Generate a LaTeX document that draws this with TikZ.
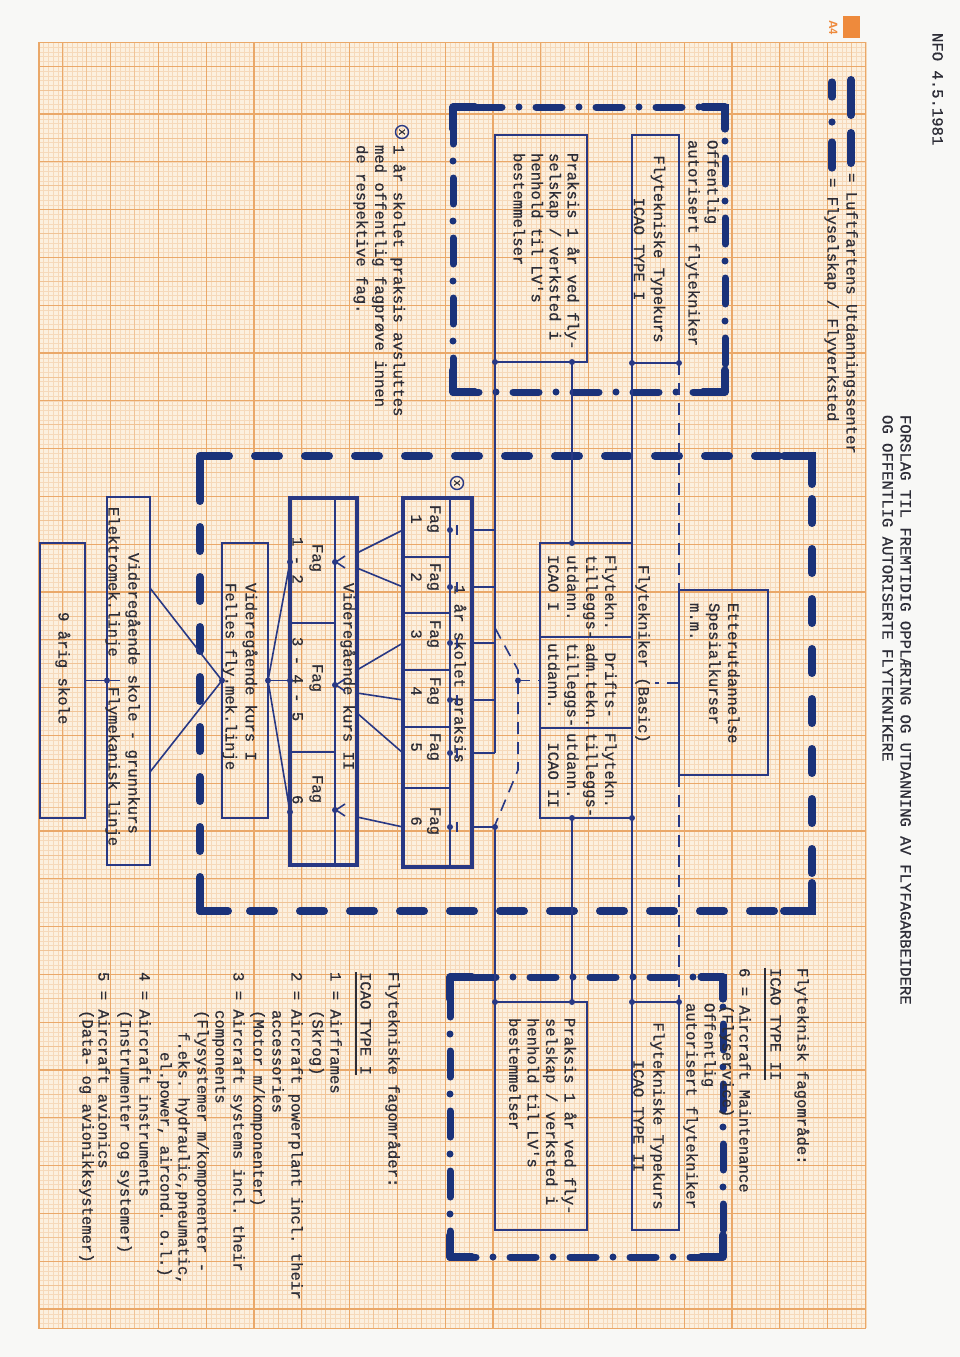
\documentclass[tikz,border=0pt]{standalone}
\usepackage{fontspec}
\setmonofont{Liberation Mono}[FakeBold=0.7]
\usetikzlibrary{calc}
\definecolor{ink}{RGB}{40,56,132}
\definecolor{heavy}{RGB}{26,50,122}
\definecolor{typec}{RGB}{45,45,55}
\definecolor{paper}{RGB}{252,240,223}
\definecolor{gminc}{RGB}{246,217,186}
\definecolor{gmidc}{RGB}{240,195,150}
\definecolor{gmajc}{RGB}{234,168,105}
\definecolor{tagc}{RGB}{238,138,60}
\definecolor{margin}{RGB}{248,248,246}
\newcommand\twf{\ttfamily\fontsize{7.8pt}{8.75pt}\selectfont}
\newcommand\twfs[1]{\ttfamily\fontsize{7.8pt}{#1}\selectfont}
\newcommand\drawcorners[3]{%
  \draw[#3] ([yshift=-#2]#1.north west) -- (#1.north west) -- ([xshift=#2]#1.north west);
  \draw[#3] ([xshift=-#2]#1.north east) -- (#1.north east) -- ([yshift=-#2]#1.north east);
  \draw[#3] ([yshift=#2]#1.south west) -- (#1.south west) -- ([xshift=#2]#1.south west);
  \draw[#3] ([xshift=-#2]#1.south east) -- (#1.south east) -- ([yshift=#2]#1.south east);}
\tikzset{
 tx/.style={rotate=-90, inner sep=0pt, outer sep=0pt, font=\twf, text=typec},
 ln/.style={draw=ink, line width=0.8pt},
 bx/.style={rectangle, draw=ink, line width=1.1pt, inner sep=0pt, outer sep=0pt},
 bxk/.style={bx, line width=1.6pt},
 dd/.style={rectangle, draw=heavy, line width=3.5pt, line cap=round, dash pattern=on 13pt off 8.5pt on 0pt off 8.5pt, inner sep=0pt, outer sep=0pt},
 ld/.style={rectangle, draw=heavy, line width=4pt, line cap=round, dash pattern=on 12pt off 13pt, inner sep=0pt, outer sep=0pt},
 crn/.style={draw=heavy, line width=3.6pt, line cap=round, line join=round},
 crnb/.style={draw=heavy, line width=4pt, line cap=round, line join=round},
 td/.style={draw=ink, line width=0.8pt, dash pattern=on 6pt off 4pt},
 jdot/.style={circle, fill=ink, inner sep=0pt, minimum size=3pt},
 gmin/.style={draw=gminc, line width=0.25pt},
 gmid/.style={draw=gmidc, line width=0.4pt},
 gmaj/.style={draw=gmajc, line width=0.6pt},
 cx/.style={circle, draw=ink, line width=0.7pt, inner sep=0pt, minimum size=6.5pt, rotate=-90, font=\ttfamily\fontsize{5.5pt}{6pt}\selectfont, text=typec},
}
\begin{document}
\begin{tikzpicture}[x=0.5pt,y=-0.5pt]
\useasboundingbox (0,0) rectangle (960,1357);
% ---------- paper ----------
\fill[margin] (0,0) rectangle (960,1357);
\fill[paper] (38.9,42.3) rectangle (865.8,1328.1);
\foreach \i in {-5,...,168} \draw[gmin] ({62.8+4.78*\i},42.3) -- ({62.8+4.78*\i},1328.1);
\foreach \j in {-5,...,264} \draw[gmin] (38.9,{66.2+4.78*\j}) -- (865.8,{66.2+4.78*\j});
\foreach \i in {-1,...,33} \draw[gmid] ({62.8+23.9*\i},42.3) -- ({62.8+23.9*\i},1328.1);
\foreach \j in {-1,...,52} \draw[gmid] (38.9,{66.2+23.9*\j}) -- (865.8,{66.2+23.9*\j});
\foreach \i in {0,...,16} \draw[gmaj] ({62.8+47.8*\i},42.3) -- ({62.8+47.8*\i},1328.1);
\foreach \j in {0,...,26} \draw[gmaj] (38.9,{66.2+47.8*\j}) -- (865.8,{66.2+47.8*\j});
\draw[gmaj] (38.9,42.3) rectangle (865.8,1328.1);
% A4 tag
\fill[tagc] (843,16) rectangle (860,38);
\node[tx, text=tagc, font=\sffamily\bfseries\fontsize{6pt}{6pt}\selectfont, anchor=base west] (tag) at (829,20) {A4};
% ---------- header ----------
\node[tx, anchor=base west] (date) at (932.5,33) {NFO 4.5.1981};
\node[tx, anchor=base west] (title1) at (900.5,415) {FORSLAG TIL FREMTIDIG OPPLÆRING OG UTDANNING AV FLYFAGARBEIDERE};
\node[tx, anchor=base west] (title2) at (882.5,415) {OG OFFENTLIG AUTORISERTE FLYTEKNIKERE};
% ---------- legend ----------
\draw[crnb] (851,80) -- (851,115);
\draw[crnb] (851,133) -- (851,163);
\node[tx, anchor=base west] (leg1) at (846.5,173) {= Luftfartens Utdanningssenter};
\draw[crn] (832,82) -- (832,97);
\fill[heavy] (832,122) circle (3.6);
\draw[crn] (832,142) -- (832,168);
\node[tx, anchor=base west] (leg2) at (827.5,178) {= Flyselskap / Flyverksted};
% ---------- left (type I) ----------
\node[dd, minimum width=136pt, minimum height=142.5pt] (LI) at (589,249.5) {};
\drawcorners{LI}{11pt}{crn}
\node[tx, anchor=base west] (LIt1) at (707.5,140) {Offentlig};
\node[tx, anchor=base west] (LIt2) at (688.5,140) {autorisert flytekniker};
\node[bx, minimum width=23.5pt, minimum height=114pt] (tkI) at (655.5,249) {};
\node[tx, align=center, font=\twfs{10pt}] (tkIt) at (649.5,249) {Flytekniske Typekurs\\ICAO TYPE I};
\node[bx, minimum width=46pt, minimum height=113.5pt] (prI) at (541,248.5) {};
\node[tx, align=left, anchor=north west, font=\twfs{9pt}] (prIt) at (579.5,153) {Praksis 1 år ved fly-\\selskap / verksted i\\henhold til LV's\\bestemmelser};
% note
\node[cx] (x1) at (402,132) {x};
\node[tx, align=left, anchor=north west, font=\twfs{9.25pt}] (note) at (405.5,145) {1 år skolet praksis avsluttes\\med offentlig fagprøve innen\\de respektive fag.};
% ---------- big centre frame ----------
\node[ld, minimum width=306pt, minimum height=227.5pt] (LUS) at (506,683.5) {};
\drawcorners{LUS}{14pt}{crnb}
% Etterutdannelse
\node[bx, minimum width=44.5pt, minimum height=92.5pt] (etter) at (723.5,682.5) {};
\node[tx, align=left, anchor=north west, font=\twfs{9.5pt}] (ettert) at (739.5,603) {Etterutdannelse\\Spesialkurser\\m.m.};
% Basic
\node[bx, minimum width=46pt, minimum height=137.5pt] (basic) at (586,680.5) {};
\draw[ln] (540,637) -- (632,637);
\draw[ln] (540,728) -- (632,728);
\node[tx, anchor=base west] (basicl) at (638.5,565) {Flytekniker (Basic)};
\node[tx, align=left, anchor=north west, font=\twfs{9.5pt}] (bc1) at (616.5,555) {Flytekn.\\tilleggs-\\utdann.\\ICAO I};
\node[tx, align=left, anchor=north west, font=\twfs{9.5pt}] (bc2) at (616.5,643) {~Drifts-\\adm.tekn.\\tilleggs-\\utdann.};
\node[tx, align=left, anchor=north west, font=\twfs{9.5pt}] (bc3) at (616.5,733) {Flytekn.\\tilleggs-\\utdann.\\~ICAO II};
% Fag box
\node[bxk, minimum width=34.5pt, minimum height=184.5pt] (fag) at (437.5,682.5) {};
\draw[ln] (450,498) -- (450,867);
\foreach \yy in {557,613,670,727,788} \draw[ln] (405,\yy) -- (450,\yy);
\foreach \s/\n in {505/1,563/2,620/3,677/4,733/5,807/6}
  \node[tx, align=left, anchor=north west, font=\twfs{9.5pt}] at (440.5,\s) {Fag\\~\n};
\node[tx, anchor=base west] (skp) at (454.5,585) {1 år skolet praksis};
\node[cx] (x2) at (457,483) {x};
\foreach \yy in {530,587,643,700,753,827} {
  \node[jdot] at (450,\yy) {};
  \draw[ln] (457,\yy-5) -- (457,\yy+5);
}
% VK II
\node[bxk, minimum width=33.5pt, minimum height=183.5pt] (vk2) at (323.5,681.5) {};
\draw[ln] (335,498) -- (335,865);
\draw[ln] (290,623) -- (335,623);
\draw[ln] (290,752) -- (335,752);
\node[tx, anchor=base west] (vk2t) at (343.5,583) {Videregående kurs II};
\node[tx, anchor=base west] at (312.5,544) {Fag};
\node[tx, anchor=base west] at (292.5,537) {1 - 2};
\node[tx, anchor=base west] at (312.5,664) {Fag};
\node[tx, anchor=base west] at (292.5,637) {3 - 4 - 5};
\node[tx, anchor=base west] at (312.5,775) {Fag};
\node[tx, anchor=base west] at (292.5,795) {6};
\foreach \yy in {562,685,810} {
  \node[jdot] at (335,\yy) {};
  \draw[ln] (345,\yy-6) -- (336,\yy) -- (345,\yy+6);
}
% VK I
\node[bx, minimum width=23pt, minimum height=137.5pt] (vk1) at (245,680.5) {};
\node[tx, align=left, anchor=north west, font=\twfs{10pt}] (vk1t) at (257.5,583) {Videregående kurs I\\Felles fly.mek.linje};
% grunnkurs
\node[bx, minimum width=21.5pt, minimum height=184pt] (grk) at (128.5,681) {};
\node[tx, anchor=base west] (grkt) at (128.5,553) {Videregående skole - grunnkurs};
\node[tx, anchor=base west] (grka) at (108.5,507) {Elektromek.linje};
\node[tx, anchor=base west] (grkb) at (108.5,687) {Flymekanisk linje};
% 9 aarig skole
\node[bx, minimum width=22.5pt, minimum height=137.5pt] (sk9) at (62.5,680.5) {};
\node[tx, anchor=base west] (sk9t) at (58.5,612) {9 årig skole};
% ---------- right (type II) ----------
\node[dd, minimum width=136.5pt, minimum height=140pt] (RI) at (586.5,1117) {};
\drawcorners{RI}{11pt}{crn}
\node[bx, minimum width=23.5pt, minimum height=114pt] (tkII) at (655.5,1116) {};
\node[tx, align=center, font=\twfs{10pt}] (tkIIt) at (649,1116) {Flytekniske Typekurs\\ICAO TYPE II};
\node[bx, minimum width=46pt, minimum height=114pt] (prII) at (541,1116) {};
\node[tx, align=left, anchor=north west, font=\twfs{9.25pt}] (prIIt) at (576.5,1018) {Praksis 1 år ved fly-\\selskap / verksted i\\henhold til LV's\\bestemmelser};
\node[tx, anchor=base west] (RIt1) at (704.5,1003) {Offentlig};
\node[tx, anchor=base west] (RIt2) at (686.5,1003) {autorisert flytekniker};
% right upper text
\node[tx, anchor=base west] (fo2) at (797.5,968) {Flyteknisk fagområde:};
\node[tx, anchor=base west] (ic2) at (770.5,968) {ICAO TYPE II};
\draw[typec, line width=0.6pt] (765,968) -- (765,1080);
\node[tx, anchor=base west] (m6) at (739.5,968) {6 = Aircraft Maintenance};
\node[tx, anchor=base west] (m6b) at (722.5,1005) {(Flyservice)};
% right lower text
\node[tx, anchor=base west] (fo1) at (388.5,972) {Flytekniske fagområder:};
\node[tx, anchor=base west] (ic1) at (360.5,972) {ICAO TYPE I};
\draw[typec, line width=0.6pt] (356,972) -- (356,1075);
\node[tx, anchor=base west] at (330.5,972) {1 = Airframes};
\node[tx, anchor=base west] at (312.5,1010) {(Skrog)};
\node[tx, anchor=base west] at (291.5,972) {2 = Aircraft powerplant incl. their};
\node[tx, anchor=base west] at (272.5,1010) {accessories};
\node[tx, anchor=base west] at (253.5,1010) {(Motor m/komponenter)};
\node[tx, anchor=base west] at (233.5,972) {3 = Aircraft systems incl. their};
\node[tx, anchor=base west] at (215.5,1010) {components};
\node[tx, anchor=base west] at (197.5,1010) {(Flysystemer m/komponenter -};
\node[tx, anchor=base west] at (178.5,1032) {f.eks. hydraulic,pneumatic,};
\node[tx, anchor=base west] at (160.5,1052) {el.power, aircond. o.l.)};
\node[tx, anchor=base west] at (139.5,972) {4 = Aircraft instruments};
\node[tx, anchor=base west] at (120.5,1010) {(Instrumenter og systemer)};
\node[tx, anchor=base west] at (98.5,972) {5 = Aircraft avionics};
\node[tx, anchor=base west] at (82.5,1010) {(Data- og avionikksystemer)};
% ---------- connectors ----------
\coordinate (a1) at (572,362);
\coordinate (a2) at (572,818);
\draw[ln] (prI.south west) -- (prI.south west |- 0,753);
\foreach \yy in {530,587,643,700,753} \draw[ln] (fag.east |- 0,\yy) -- (495,\yy);
\draw[ln] (fag.east |- 0,827) -- (495,827) -- (prII.north west);
\draw[ln] (a1) -- (a1 |- basic.north);
\draw[ln] (tkI.south west) -- (basic.north east);
\draw[td] (tkI.south east) -- (etter.north west);
\draw[td] (etter.south west) -- (tkII.north east);
\draw[ln] (a2) -- (a2 |- prII.north);
\draw[ln] (basic.south east) -- (tkII.north west);
\draw[td] (679,683) -- (655,683);
% dashed bracket
\draw[td] (495,628) -- (518,670) -- (518,770) -- (495,825);
\draw[td] (518,680.5) -- (basic.west);
\node[jdot] at (518,680.5) {};
% Fag -> VK II
\draw[ln] (403,530) -- (357,553);
\draw[ln] (403,587) -- (357,568);
\draw[ln] (403,643) -- (357,670);
\draw[ln] (403,700) -- (357,693);
\draw[ln] (403,753) -- (357,713);
\draw[ln] (403,827) -- (357,817);
% VK I -> VK II
\draw[ln] (vk1.east) -- (290,562);
\draw[ln] (vk1.east) -- (290,680.5);
\draw[ln] (vk1.east) -- (290,812);
\node[jdot] at (vk1.east) {};
\node[jdot] at (290,562) {};
\node[jdot] at (290,680.5) {};
\node[jdot] at (290,812) {};
% grunnkurs -> VK I
\draw[ln] (vk1.west) -- (150,588);
\draw[ln] (vk1.west) -- (150,772);
\node[jdot] at (vk1.west) {};
% 9 aarig -> grunnkurs
\draw[ln] (sk9.east) -- (120,680.5);
\node[jdot] at (107,680.5) {};
% junction dots
\foreach \p in {(495,362),(572,362),(632,363),(679,363),(572,543),(572,818),(632,818),(572,1002),(632,1002),(679,1002),(495,1002),(495,827)}
  \node[jdot] at \p {};
\end{tikzpicture}
\end{document}
